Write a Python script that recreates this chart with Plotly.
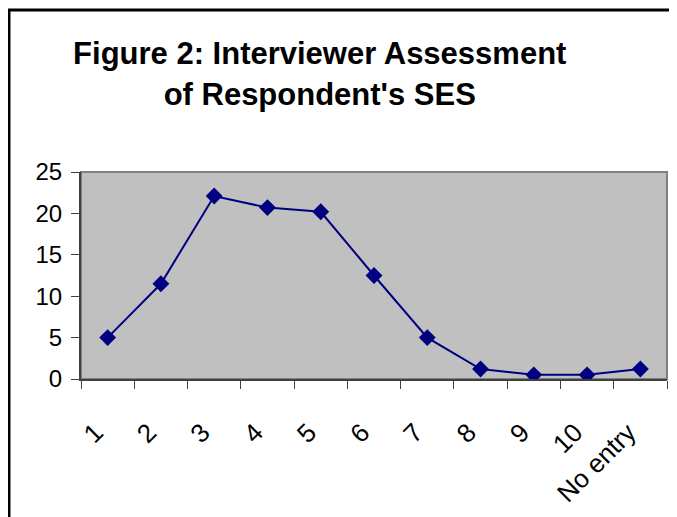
import plotly.graph_objects as go

categories = ["1", "2", "3", "4", "5", "6", "7", "8", "9", "10", "No entry"]
values = [5.0, 11.5, 22.1, 20.7, 20.2, 12.5, 5.0, 1.2, 0.5, 0.5, 1.2]

title_text = "Figure 2: Interviewer Assessment<br>of Respondent's SES"
font_name = "Liberation Sans, Arial, sans-serif"

fig = go.Figure(
    go.Scatter(
        x=categories,
        y=values,
        mode="lines+markers",
        line=dict(color="#000080", width=2),
        marker=dict(symbol="diamond", size=13, color="#000080"),
        showlegend=False,
    )
)

# plot area box: grey top/right edge, axes drawn darker on top of it
fig.add_shape(type="rect", xref="paper", yref="paper", x0=0, x1=1, y0=0, y1=1,
              line=dict(color="#808080", width=2), layer="below")
# outer black chart frame, running off the right and bottom edges
fig.add_shape(type="rect", xref="paper", yref="paper",
              x0=-0.1229, x1=1.3, y0=-1.0, y1=1.7826,
              line=dict(color="black", width=3), layer="above")

# page body adds an 8px offset, so the figure is 8px smaller
fig.update_layout(
    width=669,
    height=509,
    margin=dict(l=73, r=10, t=164, b=138),
    paper_bgcolor="white",
    plot_bgcolor="#C0C0C0",
    font=dict(family=font_name, color="black"),
    title=dict(text=title_text, xref="container", x=0.466, xanchor="center",
               yref="container", y=0.889, yanchor="top",
               font=dict(family=font_name, size=31, color="black", weight="bold")),
)

fig.update_xaxes(
    type="category",
    range=[-0.5, len(categories) - 0.5],
    tickson="boundaries",
    ticks="outside",
    ticklen=8,
    tickcolor="#404040",
    tickangle=-45,
    tickfont=dict(size=26),
    ticklabelstandoff=26,
    ticklabelshift=-12,
    showline=True,
    linecolor="#404040",
    linewidth=2,
    showgrid=False,
    zeroline=False,
)
fig.update_yaxes(
    range=[0, 25],
    dtick=5,
    ticks="outside",
    ticklen=8,
    tickcolor="#404040",
    tickfont=dict(size=24),
    ticklabelstandoff=4,
    showline=True,
    linecolor="#404040",
    linewidth=2,
    showgrid=False,
    zeroline=False,
)

fig.write_html("out.html")
